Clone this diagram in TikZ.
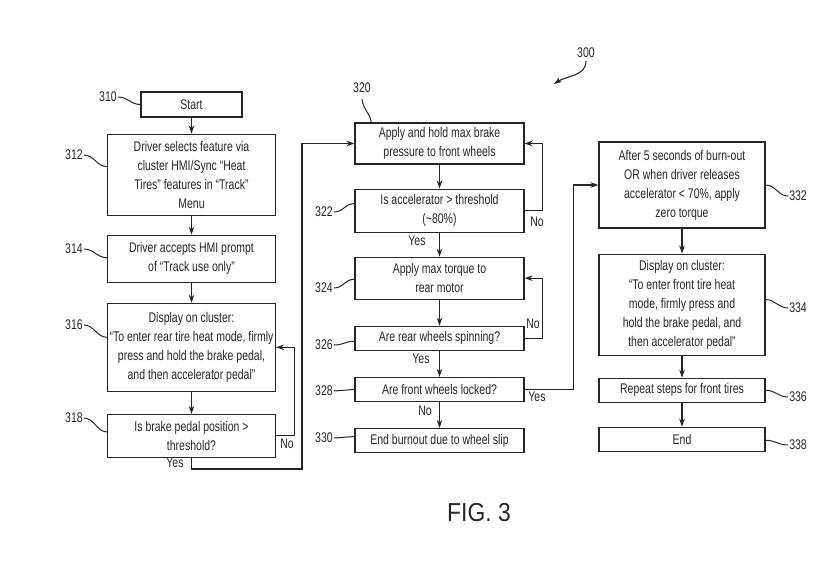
\documentclass[tikz,border=0pt]{standalone}
\usepackage{fontspec}
\setmainfont{Liberation Sans}[FakeStretch=0.75]
\newfontfamily\figfont{Liberation Sans}[FakeStretch=0.88]
\usetikzlibrary{positioning,arrows.meta}

\begin{document}
\begin{tikzpicture}[x=1pt,y=-1pt,
		box/.style={draw=black!85,line width=1.1pt,align=center,inner sep=2pt,text=black!85,font=\fontsize{14}{19}\selectfont},
		lbox/.style={box,minimum width=168pt},
		mbox/.style={box,minimum width=169pt},
		rbox/.style={box,minimum width=166pt},
		num/.style={inner sep=1pt,text=black!85,font=\fontsize{14}{16}\selectfont},
		yn/.style={num},
		flow/.style={draw=black!85,line width=1.1pt,-{Stealth[length=8pt,width=5.5pt]}},
		leader/.style={draw=black!85,line width=1pt}]
		\useasboundingbox (0,0) rectangle (840,560);
		% left column
		\node[box, minimum width=101pt, minimum height=25pt] (start) at (191.5,104.5) {Start};
		\node[lbox, minimum height=81pt] (s312) [below=16pt of start] {Driver selects feature via\\cluster HMI/Sync “Heat\\Tires” features in “Track”\\Menu};
		\node[lbox, minimum height=47pt] (s314) [below=19pt of s312] {Driver accepts HMI prompt\\of “Track use only”};
		\node[lbox, minimum height=88pt] (s316) [below=20pt of s314] {Display on cluster:\\“To enter rear tire heat mode, firmly\\press and hold the brake pedal,\\and then accelerator pedal”};
		\node[lbox, minimum height=43pt] (s318) [below=22pt of s316] {Is brake pedal position >\\threshold?};
		% middle column
		\node[mbox, minimum height=41pt] (s320) at (439.5,143.5) {Apply and hold max brake\\pressure to front wheels};
		\node[mbox, minimum height=43pt] (s322) [below=24pt of s320] {Is accelerator > threshold\\(\textasciitilde80\%)};
		\node[mbox, minimum height=42pt] (s324) [below=24pt of s322] {Apply max torque to\\rear motor};
		\node[mbox, minimum height=24pt] (s326) [below=26pt of s324] {Are rear wheels spinning?};
		\node[mbox, minimum height=24pt] (s328) [below=26pt of s326] {Are front wheels locked?};
		\node[mbox, minimum height=24pt] (s330) [below=26pt of s328] {End burnout due to wheel slip};
		% right column
		\node[rbox, minimum height=86pt] (s332) at (682,185) {After 5 seconds of burn-out\\OR when driver releases\\accelerator < 70\%, apply\\zero torque};
		\node[rbox, minimum height=101pt] (s334) [below=25pt of s332] {Display on cluster:\\“To enter front tire heat\\mode, firmly press and\\hold the brake pedal, and\\then accelerator pedal”};
		\node[rbox, minimum height=24pt] (s336) [below=22pt of s334] {Repeat steps for front tires};
		\node[rbox, minimum height=24pt] (s338) [below=24pt of s336] {End};

		\coordinate (yesturn) at (302,469);
		\path[flow]
		(start) edge (s312)
		(s312) edge (s314)
		(s314) edge (s316)
		(s316) edge (s318)
		(s320) edge (s322)
		(s322) edge (s324)
		(s324) edge (s326)
		(s326) edge (s328)
		(s328) edge (s330)
		(s332) edge (s334)
		(s334) edge (s336)
		(s336) edge (s338);
		\draw[flow] (s318.east) -- ++(18,0) |- (s316.east);
		\draw[flow] (s318.south) |- (yesturn) |- (s320.west);
		\draw[flow] (s322.east) -- ++(18,0) |- (s320.east);
		\draw[flow] (s326.east) -- ++(18,0) |- (s324.east);
		\draw[flow] (s328.east) -- ++(49,0) |- (s332.west);

		\node[yn] (no318) at (287,444) {No};
		\node[yn] (yes318) at (175,463) {Yes};
		\node[yn] (no322) at (537,222) {No};
		\node[yn] (yes322) at (417,241) {Yes};
		\node[yn] (no326) at (533,324) {No};
		\node[yn] (yes326) at (421,359) {Yes};
		\node[yn] (yes328) at (537,397) {Yes};
		\node[yn] (no328) at (425,411) {No};

		% reference numerals
		\node[num] (n310) at (108,97) {310};
		\node[num] (n312) at (74,155) {312};
		\node[num] (n314) at (74,249) {314};
		\node[num] (n316) at (74,325) {316};
		\node[num] (n318) at (74,418) {318};
		\node[num] (n320) at (362,88) {320};
		\node[num] (n322) at (324,212) {322};
		\node[num] (n324) at (324,288) {324};
		\node[num] (n326) at (324,345) {326};
		\node[num] (n328) at (324,391) {328};
		\node[num] (n330) at (324,438) {330};
		\node[num] (n332) at (798,196) {332};
		\node[num] (n334) at (798,308) {334};
		\node[num] (n336) at (798,397) {336};
		\node[num] (n338) at (798,445) {338};
		\node[num] (n300) at (586,53) {300};

		\draw[leader] (n310.east) .. controls +(10,0) and +(-10,0) .. (start.west);
		\draw[leader] (n312.east) .. controls +(10,0) and +(-10,0) .. ([yshift=8pt]s312.west);
		\draw[leader] (n314.east) .. controls +(10,0) and +(-10,0) .. ([yshift=1pt]s314.west);
		\draw[leader] (n316.east) .. controls +(10,0) and +(-10,0) .. ([yshift=10pt]s316.west);
		\draw[leader] (n318.east) .. controls +(10,0) and +(-10,0) .. ([yshift=4pt]s318.west);
		\draw[leader] ([yshift=-5pt]n320.south) .. controls +(1,10) and +(-2,-10) .. ([xshift=17pt]s320.north west);
		\draw[leader] (n322.east) .. controls +(10,0) and +(-10,0) .. ([yshift=7pt]s322.west);
		\draw[leader] (n324.east) .. controls +(10,0) and +(-10,0) .. ([yshift=-1pt]s324.west);
		\draw[leader] (n326.east) .. controls +(10,0) and +(-10,0) .. ([yshift=-3pt]s326.west);
		\draw[leader] (n328.east) .. controls +(10,0) and +(-10,0) .. (s328.west);
		\draw[leader] (n330.east) .. controls +(10,0) and +(-10,0) .. ([yshift=4pt]s330.west);
		\draw[leader] (s332.east) .. controls +(10,0) and +(-10,0) .. (n332.west);
		\draw[leader] ([yshift=5pt]s334.east) .. controls +(10,0) and +(-10,0) .. (n334.west);
		\draw[leader] (s336.east) .. controls +(10,0) and +(-10,0) .. (n336.west);
		\draw[leader] ([yshift=-1pt]s338.east) .. controls +(10,0) and +(-10,0) .. (n338.west);
		\coordinate (p300) at (554,84);
		\draw[flow] ([yshift=-2pt]n300.south) .. controls +(0,15) and +(12,-8) .. (p300);

		\node[text=black!85,font=\figfont\fontsize{26}{30}\selectfont] (fig) at (479,513) {FIG. 3};
	\end{tikzpicture}
\end{document}
